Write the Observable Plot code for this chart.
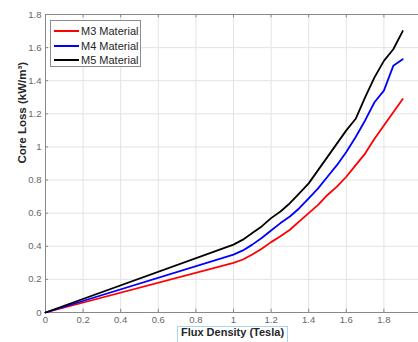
<!DOCTYPE html>
<html>
<head>
<meta charset="utf-8">
<script src="https://cdn.jsdelivr.net/npm/d3@7"></script>
<script src="https://cdn.jsdelivr.net/npm/@observablehq/plot@0.6"></script>
<style>
  html, body { margin: 0; padding: 0; background: #fff; }
  #wrap { position: relative; width: 418px; height: 342px; overflow: hidden; font-family: "Liberation Sans", Arial, sans-serif; }
  #legend { position: absolute; left: 50px; top: 20px; width: 91px; height: 47px; border: 1px solid #8c8c8c; background: #fff; box-sizing: border-box; }
  .row { position: absolute; left: 3px; height: 14px; display: flex; align-items: center; font-size: 11px; color: #262626; white-space: nowrap; }
  .swatch { width: 25px; height: 0; border-top: 2px solid; margin-right: 2px; flex: none; }
  #xbox { position: absolute; left: 177px; top: 326px; width: 111px; height: 20px; border: 1px solid #a6d5f5; box-sizing: border-box; }
</style>
</head>
<body>
<div id="wrap"></div>
<script>
// Data
const flux = [0, 1, 1.05, 1.1, 1.15, 1.2, 1.25, 1.3, 1.35, 1.4, 1.45, 1.5, 1.55, 1.6, 1.65, 1.7, 1.75, 1.8, 1.85, 1.9];
const m3 = [0, 0.30, 0.32, 0.35, 0.385, 0.425, 0.46, 0.50, 0.55, 0.60, 0.65, 0.71, 0.76, 0.82, 0.89, 0.96, 1.05, 1.13, 1.21, 1.29];
const m4 = [0, 0.35, 0.375, 0.41, 0.45, 0.495, 0.54, 0.58, 0.63, 0.69, 0.75, 0.82, 0.89, 0.97, 1.06, 1.16, 1.27, 1.34, 1.49, 1.53];
const m5 = [0, 0.41, 0.44, 0.48, 0.52, 0.57, 0.61, 0.66, 0.72, 0.78, 0.86, 0.94, 1.02, 1.10, 1.17, 1.30, 1.42, 1.52, 1.59, 1.70];
const seriesNames = ["M3 Material", "M4 Material", "M5 Material"];
const seriesColors = ["#ff0000", "#0000ff", "#000000"];
const xTicks = [0, 0.2, 0.4, 0.6, 0.8, 1, 1.2, 1.4, 1.6, 1.8];
const yTicks = [0, 0.2, 0.4, 0.6, 0.8, 1, 1.2, 1.4, 1.6, 1.8];
const xLabel = "Flux Density (Tesla)";
const yLabel = "Core Loss (kW/m³)";

const seriesValues = [m3, m4, m5];
const data = seriesNames.flatMap((name, s) => flux.map((f, i) => ({x: f, y: seriesValues[s][i], name})));

const tickColor = "#666";
const chart = Plot.plot({
  width: 418,
  height: 342,
  marginLeft: 45,
  marginRight: -3,
  marginTop: 14,
  marginBottom: 30,
  style: {fontFamily: "'Liberation Sans', Arial, sans-serif", background: "#fff"},
  x: {domain: [0, 2]},
  y: {domain: [0, 1.8]},
  color: {domain: seriesNames, range: seriesColors},
  marks: [
    Plot.gridX(xTicks, {stroke: "#e3e3e3", strokeOpacity: 1}),
    Plot.gridY(yTicks, {stroke: "#e3e3e3", strokeOpacity: 1}),
    Plot.ruleX(xTicks, {y1: 0, y2: 0.02, stroke: "#888"}),
    Plot.ruleX(xTicks, {y1: 1.8, y2: 1.78, stroke: "#888"}),
    Plot.ruleY(yTicks, {x1: 0, x2: 0.016, stroke: "#888"}),
    Plot.frame({stroke: "#888"}),
    Plot.axisX({ticks: xTicks, tickSize: 0, tickPadding: 4, tickFormat: d => String(d), fontSize: 9.5, fill: tickColor, label: null}),
    Plot.axisY({ticks: yTicks, tickSize: 0, tickPadding: 4, tickFormat: d => String(d), fontSize: 9.5, fill: tickColor, label: null}),
    Plot.line(data, {x: "x", y: "y", z: "name", stroke: "name", strokeWidth: 1.8}),
    Plot.text([yLabel], {frameAnchor: "left", dx: -23, rotate: -90, fontSize: 11.5, fontWeight: "bold", fill: "#262626"}),
    Plot.text([xLabel], {frameAnchor: "bottom", dx: -1, dy: 23, fontSize: 11, fontWeight: "bold", fill: "#262626"})
  ]
});
const wrap = document.getElementById("wrap");
wrap.appendChild(chart);

const box = document.createElement("div");
box.id = "xbox";
wrap.appendChild(box);

const legend = document.createElement("div");
legend.id = "legend";
seriesNames.forEach((name, i) => {
  const row = document.createElement("div");
  row.className = "row";
  row.style.top = (3 + i * 14.5) + "px";
  const sw = document.createElement("span");
  sw.className = "swatch";
  sw.style.borderTopColor = seriesColors[i];
  const t = document.createElement("span");
  t.textContent = name;
  row.appendChild(sw);
  row.appendChild(t);
  legend.appendChild(row);
});
wrap.appendChild(legend);
</script>
</body>
</html>
